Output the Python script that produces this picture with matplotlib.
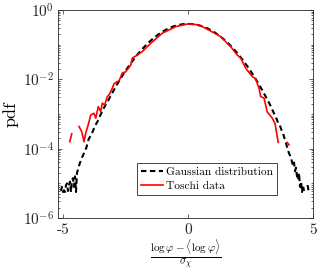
import numpy as np
import matplotlib
matplotlib.use("Agg")
import matplotlib.pyplot as plt
from matplotlib.ticker import LogLocator, NullFormatter, FixedLocator

plt.rcParams['font.family'] = ['cmr10', 'DejaVu Serif']
plt.rcParams['mathtext.fontset'] = 'cm'
plt.rcParams['axes.unicode_minus'] = False

# Gaussian distribution (histogram estimate), x and log10(pdf)
gauss_x = [-5.08, -5.04, -5.00, -4.96, -4.92, -4.88, -4.84, -4.80, -4.76, -4.72,
           -4.68, -4.64, -4.60, -4.56, -4.52, -4.48, -4.44, -4.40, -4.36, -4.32,
           -4.28, -4.24, -4.20, -4.16, -4.12, -4.07, -4.02, -3.97, -3.92, -3.87,
           -3.82, -3.77, -3.72, -3.67, -3.62, -3.57, -3.52, -3.47, -3.42, -3.37,
           -3.32, -3.27, -3.2, -3.0, -2.8, -2.6, -2.4, -2.2, -2.0, -1.8, -1.6,
           -1.4, -1.2, -1.0, -0.8, -0.6, -0.4, -0.2, 0.0, 0.2, 0.4, 0.6, 0.8,
           1.0, 1.2, 1.4, 1.6, 1.8, 2.0, 2.2, 2.4, 2.6, 2.8, 3.0, 3.2,
           3.25, 3.30, 3.35, 3.40, 3.45, 3.50, 3.55, 3.60, 3.65, 3.70, 3.75,
           3.80, 3.85, 3.90, 3.95, 4.00, 4.05, 4.10, 4.15, 4.20, 4.24, 4.28,
           4.32, 4.36, 4.40, 4.44, 4.48, 4.52, 4.56, 4.60, 4.64, 4.70, 4.78, 4.82]
gauss_log = [-5.22, -5.10, -5.25, -5.20, -5.25, -5.05, -5.00, -5.22, -5.05, -4.95,
             -5.25, -4.90, -4.85, -5.10, -4.80, -5.25, -4.70, -4.60, -4.50, -4.40,
             -4.35, -4.25, -4.20, -4.12, -4.05, -3.98, -3.85, -3.72, -3.66, -3.60,
             -3.52, -3.43, -3.36, -3.28, -3.22, -3.14, -3.06, -2.98, -2.92, -2.83,
             -2.77, -2.69, -2.622, -2.353, -2.101, -1.867, -1.650, -1.450, -1.267,
             -1.102, -0.955, -0.825, -0.712, -0.616, -0.538, -0.477, -0.434,
             -0.408, -0.399, -0.408, -0.434, -0.477, -0.538, -0.616, -0.712,
             -0.825, -0.955, -1.102, -1.267, -1.450, -1.650, -1.867, -2.101,
             -2.353, -2.622, -2.69, -2.76, -2.85, -2.92, -3.00, -3.07, -3.15,
             -3.25, -3.30, -3.38, -3.48, -3.55, -3.68, -3.78, -3.92, -4.05, -4.15,
             -4.22, -4.35, -4.50, -4.40, -4.65, -4.55, -4.80, -4.90, -4.70, -5.10,
             -4.95, -5.25, -5.05, -5.22, np.nan, -5.05, -5.20]

# Toschi data, x and log10(pdf)
toschi_x = [-4.73, -4.65, -4.50, -4.36, -4.25, -4.16, -4.09, -3.99, -3.89, -3.76,
            -3.69, -3.59, -3.49, -3.43, -3.33, -3.23, -3.16, -3.03, -2.96, -2.84,
            -2.76, -2.63, -2.49, -2.29, -2.23, -2.03, -1.83, -1.49, -1.03, -0.49,
            0.0, 0.44, 0.84, 1.31, 1.71, 1.97, 2.11, 2.31, 2.57, 2.71, 2.84, 2.91,
            3.04, 3.17, 3.37, 3.48, 3.61, 3.80, 3.97, 4.04]
toschi_log = [-3.80, -3.57, np.nan, -3.36, -3.51, -3.80, -3.55, -3.31, -3.03, -2.98,
              -3.12, -2.79, -2.93, -2.69, -2.74, -2.50, -2.45, -2.26, -2.13, -2.07,
              -2.05, -1.82, -1.78, -1.59, -1.39, -1.30, -1.20, -0.96, -0.67, -0.48,
              -0.40, -0.43, -0.58, -0.77, -1.06, -1.30, -1.39, -1.68, -1.92, -1.99,
              -2.26, -2.50, -2.54, -2.94, -3.12, -3.27, -3.82, np.nan, -3.82, -3.89]

xticks = [-5, 0, 5]
xtick_labels = ['-5', '0', '5']
yticks = [1e-6, 1e-4, 1e-2, 1e0]
ytick_labels = [r'$10^{-6}$', r'$10^{-4}$', r'$10^{-2}$', r'$10^{0}$']

fig = plt.figure(figsize=(3.18, 2.73), dpi=100)
ax = fig.add_axes([58/318, 55/273, 255/318, 208/273])

ax.plot(gauss_x, 10**np.array(gauss_log), color='black', lw=1.5,
        dashes=(2.6, 1.7), label='Gaussian distribution')
ax.plot(toschi_x, 10**np.array(toschi_log), color='red', lw=1.2,
        label='Toschi data')

ax.set_yscale('log')
ax.set_xlim(-5.2, 5)
ax.set_ylim(1e-6, 1)
ax.set_xticks(xticks)
ax.set_xticklabels(xtick_labels, fontsize=11)
ax.yaxis.set_major_locator(FixedLocator(yticks))
ax.set_yticklabels(ytick_labels, fontsize=11)
ax.yaxis.set_minor_locator(LogLocator(base=10, subs=np.arange(1, 10), numticks=20))
ax.yaxis.set_minor_formatter(NullFormatter())

for s in ax.spines.values():
    s.set_color('#262626')
    s.set_linewidth(0.6)
ax.tick_params(which='both', direction='in', top=True, right=True,
               color='#262626', width=0.5)
ax.tick_params(which='major', length=3, labelcolor='#262626')
ax.tick_params(axis='x', which='major', pad=4)
ax.tick_params(axis='y', which='major', pad=3)
ax.tick_params(which='minor', length=1.6)

ax.set_ylabel('pdf', fontsize=13, labelpad=3)
ax.set_xlabel(r'$\frac{\log\varphi - \langle\log\varphi\rangle}{\sigma_\chi}$',
              fontsize=11.5, labelpad=0)

leg = ax.legend(loc='lower left', bbox_to_anchor=(0.31, 0.11), borderaxespad=0,
                fontsize=8.2, fancybox=False, edgecolor='#262626', framealpha=1,
                handlelength=1.9, handletextpad=0.3, borderpad=0.35,
                labelspacing=0.35)
leg.get_frame().set_linewidth(0.6)

fig.savefig('out.png', dpi=100)
